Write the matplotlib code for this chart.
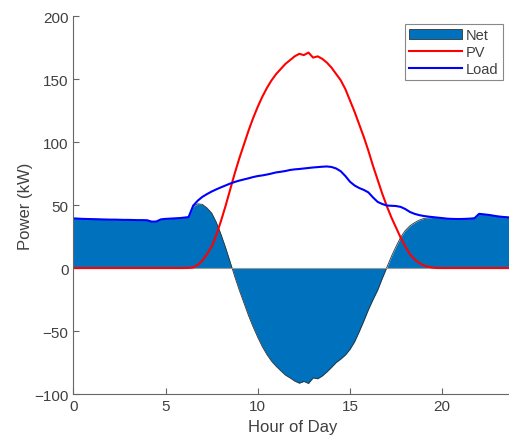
import numpy as np
from matplotlib import pyplot as plt

plt.rcParams['font.family'] = ['Liberation Sans', 'DejaVu Sans']

# 15-minute samples, 0:00 .. 23:45
hours = np.arange(96) * 0.25

pv = np.array([
    0, 0, 0, 0, 0, 0, 0, 0, 0, 0, 0, 0,              # 0 - 2.75
    0, 0, 0, 0, 0, 0, 0, 0, 0, 0, 0, 0,              # 3 - 5.75
    0, 0.1, 0.5, 2.5, 6, 11, 17, 26, 37, 49, 62, 75,  # 6 - 8.75
    87, 98, 109, 119, 128, 136, 143, 149, 154, 158, 162, 165,  # 9 - 11.75
    168, 170, 169, 171, 167, 168, 166, 163, 159, 154, 149, 142,  # 12 - 14.75
    133, 124, 114, 104, 93, 81, 70, 59, 49, 40, 32, 24,  # 15 - 17.75
    17, 11, 7, 4, 2, 1, 0.3, 0, 0, 0, 0, 0,          # 18 - 20.75
    0, 0, 0, 0, 0, 0, 0, 0, 0, 0, 0, 0,              # 21 - 23.75
])

load = np.array([
    39.4, 39.2, 39.0, 38.9, 38.8, 38.7, 38.6, 38.5, 38.4, 38.4, 38.3, 38.2,
    38.2, 38.1, 38.0, 38.0, 37.9, 36.8, 36.9, 38.6, 39.0, 39.2, 39.4, 39.6,
    40.0, 40.4, 49.5, 53.5, 56.5, 58.7, 60.7, 62.4, 64.0, 65.5, 67.0, 68.3,
    69.4, 70.3, 71.2, 72.2, 73.0, 73.5, 74.2, 75.0, 75.9, 76.4, 77.0, 77.8,
    78.3, 78.6, 79.0, 79.4, 79.8, 80.1, 80.4, 80.6, 80.2, 79.0, 76.8, 73.0,
    68.5, 65.5, 63.5, 62.0, 60.0, 56.0, 52.5, 50.8, 49.6, 49.4, 49.2, 48.5,
    46.8, 44.5, 43.0, 42.0, 41.3, 40.8, 40.4, 40.0, 39.6, 39.2, 39.0, 38.9,
    38.9, 39.0, 39.2, 39.5, 43.0, 42.6, 42.2, 41.6, 41.0, 40.6, 40.3, 40.0,
])

net = load - pv

fig = plt.figure(figsize=(5.1, 4.39), dpi=100)
ax = fig.add_axes([0.1437, 0.1002, 0.859, 0.861])

ax.fill_between(hours, net, 0, facecolor='#0072BD', edgecolor='#333333',
                linewidth=0, label='Net')
ax.plot(hours, net, color='#333333', linewidth=0.6)
ax.axhline(0, color='#999999', linewidth=0.8)
ax.plot(hours, pv, color='#FF0000', linewidth=1.5, label='PV')
ax.plot(hours, load, color='#0000FF', linewidth=1.5, label='Load')

ax.set_xlim(0, 23.75)
ax.set_ylim(-100, 200)
ax.set_xticks([0, 5, 10, 15, 20])
ax.set_yticks([-100, -50, 0, 50, 100, 150, 200])
ax.set_xlabel('Hour of Day', fontsize=12, color='#404040')
ax.set_ylabel('Power (kW)', fontsize=12, color='#404040')
ax.xaxis.set_label_coords(0.5, -0.066)
ax.yaxis.set_label_coords(-0.092, 0.5)

for s in ['top', 'right']:
    ax.spines[s].set_visible(False)
for s in ['left', 'bottom']:
    ax.spines[s].set_color('#666666')
    ax.spines[s].set_linewidth(0.8)
ax.tick_params(direction='in', length=4, width=0.8, color='#666666',
               labelsize=11, labelcolor='#404040')

leg = ax.legend(loc='upper right', bbox_to_anchor=(0.98, 0.98), fontsize=10.5,
                fancybox=False, framealpha=1, edgecolor='#888888',
                handlelength=3.6, handletextpad=0.25, borderpad=0.3,
                labelspacing=0.2, borderaxespad=0)
leg.get_frame().set_linewidth(0.8)
for t in leg.get_texts():
    t.set_color('#404040')
leg.legend_handles[0].set_edgecolor('#333333')
leg.legend_handles[0].set_linewidth(0.6)

plt.savefig('out.png', dpi=100)
